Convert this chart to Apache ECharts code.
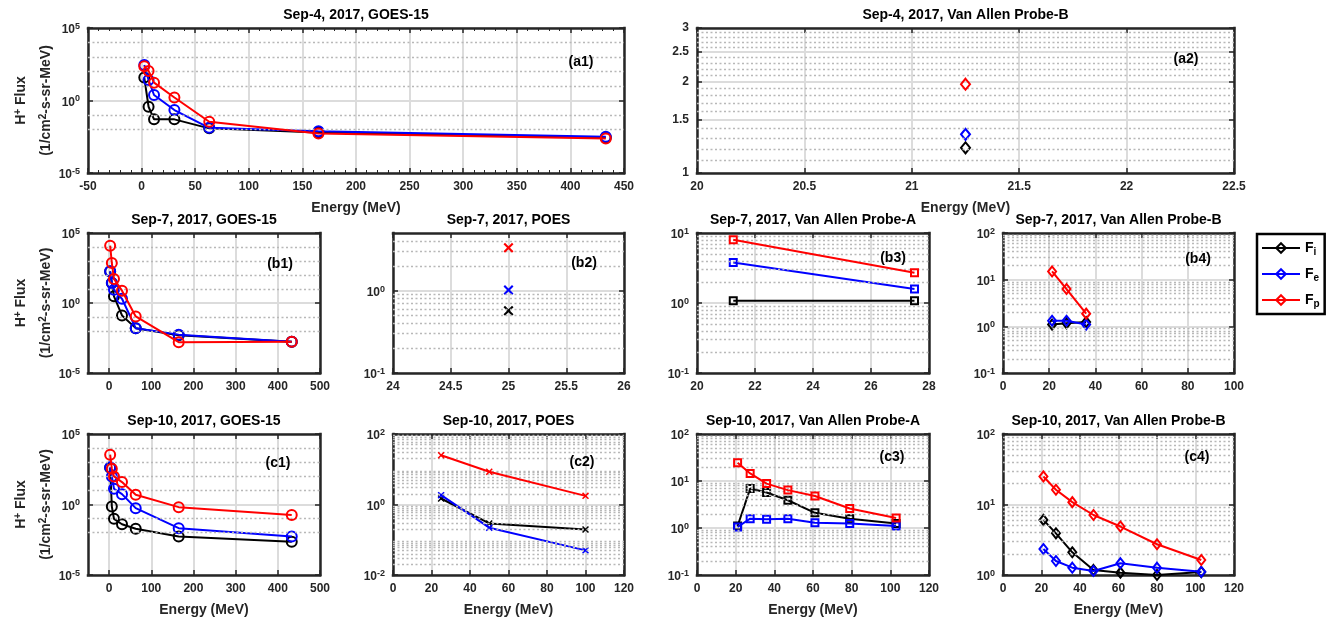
<!DOCTYPE html>
<html><head><meta charset="utf-8">
<script src="https://cdn.jsdelivr.net/npm/echarts@6/dist/echarts.min.js"></script>
<style>html,body{margin:0;padding:0;background:#fff}#c{width:1328px;height:622px}</style>
</head><body><div id="c"></div>
<script>
// ---------------- DATA ----------------
const goesEnergy = [2.5, 6.5, 11.6, 30.6, 63.1, 165, 433];
// Sep-4 GOES-15
const a1Fi = [38, 0.37, 0.05, 0.05, 0.012, 0.0063, 0.0028];
const a1Fe = [280, 26, 2.4, 0.22, 0.013, 0.0077, 0.0032];
const a1Fp = [230, 110, 17, 1.6, 0.034, 0.0053, 0.0024];
// Sep-4 Van Allen Probe-B
const a2Energy = [21.25];
const a2Fi = [1.21], a2Fe = [1.34], a2Fp = [1.96];
// Sep-7 GOES-15
const b1Fi = [180, 27, 3.0, 0.13, 0.016, 0.005, 0.0017];
const b1Fe = [182, 27, 9, 2.0, 0.016, 0.0055, 0.0017];
const b1Fp = [12500, 720, 52, 7.6, 0.11, 0.0016, 0.0017];
// Sep-7 POES
const b2Energy = [25];
const b2Fi = [0.57], b2Fe = [1.02], b2Fp = [3.3];
// Sep-7 Van Allen Probe-A
const b3Energy = [21.25, 27.5];
const b3Fi = [1.08, 1.08], b3Fe = [3.8, 1.58], b3Fp = [8.0, 2.7];
// Sep-7 Van Allen Probe-B
const b4Energy = [21.25, 27.5, 36];
const b4Fi = [1.09, 1.16, 1.24], b4Fe = [1.32, 1.32, 1.09], b4Fp = [15, 6.3, 1.87];
// Sep-10 GOES-15
const c1Fi = [400, 0.72, 0.096, 0.04, 0.019, 0.0053, 0.0023];
const c1Fe = [430, 98, 13, 5.4, 0.55, 0.021, 0.0053];
const c1Fp = [3400, 344, 98, 39, 4.9, 0.65, 0.18];
// Sep-10 POES
const c2Energy = [25, 50, 100];
const c2Fi = [1.48, 0.29, 0.195], c2Fe = [1.84, 0.22, 0.05], c2Fp = [25, 8.5, 1.76];
// Sep-10 Van Allen Probe-A
const c3Energy = [21, 27.5, 36, 47, 61, 79, 103];
const c3Fi = [1.1, 6.9, 5.7, 3.9, 2.1, 1.58, 1.24];
const c3Fe = [1.05, 1.58, 1.53, 1.58, 1.3, 1.24, 1.1];
const c3Fp = [24.5, 14.5, 8.8, 6.4, 4.8, 2.6, 1.63];
// Sep-10 Van Allen Probe-B
const c4Energy = [21, 27.5, 36, 47, 61, 80, 103];
const c4Fi = [6.05, 3.9, 2.1, 1.18, 1.08, 1.0, 1.1];
const c4Fe = [2.34, 1.58, 1.27, 1.14, 1.47, 1.27, 1.11];
const c4Fp = [25, 16.2, 10.8, 7.1, 4.87, 2.73, 1.63];

// tick labels
const a1XTicks = [-50, 0, 50, 100, 150, 200, 250, 300, 350, 400, 450];
const goesXTicks = [0, 100, 200, 300, 400, 500];
const a2XTicks = [20, 20.5, 21, 21.5, 22, 22.5];
const b2XTicks = [24, 24.5, 25, 25.5, 26];
const b3XTicks = [20, 22, 24, 26, 28];
const b4XTicks = [0, 20, 40, 60, 80, 100];
const c234XTicks = [0, 20, 40, 60, 80, 100, 120];
const goesYTicks = [1e-5, 1, 1e5];
const a2YTicks = [1, 1.5, 2, 2.5, 3];
const b2YTicks = [0.1, 1];
const b3YTicks = [0.1, 1, 10];
const b4YTicks = [0.1, 1, 10, 100];
const c2YTicks = [0.01, 1, 100];
const c3YTicks = [0.1, 1, 10, 100];
const c4YTicks = [1, 10, 100];
const titles = {
  a1: 'Sep-4, 2017, GOES-15', a2: 'Sep-4, 2017, Van Allen Probe-B',
  b1: 'Sep-7, 2017, GOES-15', b2: 'Sep-7, 2017, POES', b3: 'Sep-7, 2017, Van Allen Probe-A', b4: 'Sep-7, 2017, Van Allen Probe-B',
  c1: 'Sep-10, 2017, GOES-15', c2: 'Sep-10, 2017, POES', c3: 'Sep-10, 2017, Van Allen Probe-A', c4: 'Sep-10, 2017, Van Allen Probe-B'
};
const seriesNames = ['Fi', 'Fe', 'Fp'];
const colors = {Fi: '#000000', Fe: '#0000ff', Fp: '#ff0000'};

// ---------------- STYLE / LAYOUT ----------------
const AX = '#262626';
const FONT = '"Liberation Sans", Arial, Helvetica, sans-serif';
const XPATH = 'path://M0,1.5L1.5,0L5,3.5L8.5,0L10,1.5L6.5,5L10,8.5L8.5,10L5,6.5L1.5,10L0,8.5L3.5,5Z';
const SYM = {
  circle: {symbol: 'circle', size: 10, hollow: true},
  diamond: {symbol: 'diamond', size: [9, 11], hollow: true},
  diamondS: {symbol: 'diamond', size: [8, 10], hollow: true},
  square: {symbol: 'rect', size: 7, hollow: true},
  xBig: {symbol: XPATH, size: 10, hollow: false},
  xSmall: {symbol: XPATH, size: 7, hollow: false}
};

const panels = [
  {id:'a1', box:[88,28,624,173], tag:[581,62], xMin:-50, xMax:450, xInt:50, xTicks:a1XTicks, yMin:1e-5, yMax:1e5, yTicks:goesYTicks, pow:true, decadeMinor:true, xName:true, yName:true, E:goesEnergy, d:[a1Fi,a1Fe,a1Fp], sym:'circle'},
  {id:'a2', box:[697,28,1234,173], tag:[1186,59], xMin:20, xMax:22.5, xTicks:a2XTicks, yMin:1, yMax:3, yTicks:a2YTicks, pow:false, linMinor:0.1, xName:true, E:a2Energy, d:[a2Fi,a2Fe,a2Fp], sym:'diamond'},
  {id:'b1', box:[88,233,320,373], tag:[280,264], xMin:-50, xMax:500, xTicks:goesXTicks, yMin:1e-5, yMax:1e5, yTicks:goesYTicks, pow:true, decadeMinor:true, yName:true, E:goesEnergy, d:[b1Fi,b1Fe,b1Fp], sym:'circle'},
  {id:'b2', box:[393,233,624,373], tag:[584,263], xMin:24, xMax:26, xTicks:b2XTicks, yMin:0.1, yMax:5, yTicks:b2YTicks, pow:true, E:b2Energy, d:[b2Fi,b2Fe,b2Fp], sym:'xBig'},
  {id:'b3', box:[697,233,929,373], tag:[893,258], xMin:20, xMax:28, xTicks:b3XTicks, yMin:0.1, yMax:10, yTicks:b3YTicks, pow:true, E:b3Energy, d:[b3Fi,b3Fe,b3Fp], sym:'square'},
  {id:'b4', box:[1003,233,1234,373], tag:[1198,259], xMin:0, xMax:100, xTicks:b4XTicks, yMin:0.1, yMax:100, yTicks:b4YTicks, pow:true, E:b4Energy, d:[b4Fi,b4Fe,b4Fp], sym:'diamondS', legend:true},
  {id:'c1', box:[88,434,320,575], tag:[278,463], xMin:-50, xMax:500, xTicks:goesXTicks, yMin:1e-5, yMax:1e5, yTicks:goesYTicks, pow:true, decadeMinor:true, xName:true, yName:true, E:goesEnergy, d:[c1Fi,c1Fe,c1Fp], sym:'circle'},
  {id:'c2', box:[393,434,624,575], tag:[582,462], xMin:0, xMax:120, xTicks:c234XTicks, yMin:0.01, yMax:100, yTicks:c2YTicks, pow:true, xName:true, E:c2Energy, d:[c2Fi,c2Fe,c2Fp], sym:'xSmall'},
  {id:'c3', box:[697,434,929,575], tag:[892,457], xMin:0, xMax:120, xTicks:c234XTicks, yMin:0.1, yMax:100, yTicks:c3YTicks, pow:true, xName:true, E:c3Energy, d:[c3Fi,c3Fe,c3Fp], sym:'square'},
  {id:'c4', box:[1003,434,1234,575], tag:[1197,457], xMin:0, xMax:120, xTicks:c234XTicks, yMin:1, yMax:100, yTicks:c4YTicks, pow:true, xName:true, E:c4Energy, d:[c4Fi,c4Fe,c4Fp], sym:'diamondS'}
];

const labelBase = {fontSize:12, fontWeight:'bold', fontFamily:FONT, color:AX};
const powRich = {
  b: {fontSize:12, fontWeight:'bold', fontFamily:FONT, color:AX, lineHeight:16, padding:[6,0,0,0], verticalAlign:'bottom'},
  s: {fontSize:9, fontWeight:'bold', fontFamily:FONT, color:AX, lineHeight:10, padding:[2,0,0,0], verticalAlign:'top'}
};
function fmtPow(v) { const e = Math.round(Math.log10(v)); return '{b|10}{s|' + e + '}'; }

function minorValues(p) {
  const out = [];
  if (p.linMinor) {
    for (let v = p.yMin; v < p.yMax - 1e-9; v += p.linMinor) {
      const r = Math.round(v * 10) / 10;
      if (r > p.yMin && Math.abs(r * 2 - Math.round(r * 2)) > 1e-9) out.push(r);
    }
    return out;
  }
  const lo = Math.floor(Math.log10(p.yMin) + 1e-9), hi = Math.ceil(Math.log10(p.yMax) - 1e-9);
  for (let e = lo; e < hi; e++) {
    if (p.decadeMinor) { if (e > lo && e !== 0) out.push(Math.pow(10, e)); continue; }
    for (let m = 2; m <= 9; m++) {
      const v = m * Math.pow(10, e);
      if (v > p.yMin && v < p.yMax) out.push(+v.toPrecision(6));
    }
  }
  return out;
}

const option = {
  animation: false,
  backgroundColor: '#ffffff',
  grid: [], xAxis: [], yAxis: [], series: [], graphic: [],
  legend: {
    orient: 'vertical', left: 1257, top: 234,
    data: seriesNames,
    formatter: n => '{F|F}{s|' + n.slice(1) + '}',
    textStyle: {rich: {
      F: {fontSize:14, fontWeight:'bold', fontFamily:FONT, color:'#000'},
      s: {fontSize:10, fontWeight:'bold', fontFamily:FONT, color:'#000', verticalAlign:'bottom', padding:[8,0,0,0]}
    }},
    itemWidth: 38, itemHeight: 12, itemGap: 10,
    borderColor: '#000', borderWidth: 2.5, padding: [7, 5, 5, 4],
    backgroundColor: '#fff', selectedMode: false
  }
};

panels.forEach(p => {
  const gi = option.grid.length;
  const [x0, y0, x1, y1] = p.box;
  option.grid.push({left:x0, top:y0, width:x1-x0, height:y1-y0, containLabel:false, outerBoundsMode:'none', show:false});
  const axisLine = {show:true, onZero:false, lineStyle:{color:AX, width:2.5, cap:'square'}};
  const minorTick = p.xInt ? {show:true, splitNumber:5, length:3, lineStyle:{color:AX, width:1}} : {show:false};
  const xi = option.xAxis.length;
  const xBase = {gridIndex:gi, type:'value', min:p.xMin, max:p.xMax};
  if (p.xInt) xBase.interval = p.xInt;
  option.xAxis.push(Object.assign({}, xBase, {
    position:'bottom', axisLine, minorTick,
    axisTick:{show:true, inside:true, length:5, customValues:p.xTicks, lineStyle:{color:AX, width:1.5}},
    axisLabel:Object.assign({customValues:p.xTicks, margin:8}, labelBase),
    splitLine:{show:true, lineStyle:{color:'#dcdcdc', width:2}},
    name: p.xName ? 'Energy (MeV)' : '', nameLocation:'middle', nameGap:28,
    nameTextStyle:{fontSize:14, fontWeight:'bold', fontFamily:FONT, color:AX}
  }));
  option.xAxis.push(Object.assign({}, xBase, {
    position:'top', axisLine, minorTick,
    axisTick:{show:true, inside:true, length:5, customValues:p.xTicks, lineStyle:{color:AX, width:1.5}},
    axisLabel:{show:false}, splitLine:{show:false}
  }));
  const yi = option.yAxis.length;
  const yBase = {gridIndex:gi, type:'log', logBase:10, min:p.yMin, max:p.yMax};
  option.yAxis.push(Object.assign({}, yBase, {
    position:'left', axisLine,
    axisTick:{show:true, inside:true, length:5, customValues:p.yTicks, lineStyle:{color:AX, width:1.5}},
    axisLabel: p.pow ? {customValues:p.yTicks, margin:8, formatter:fmtPow, rich:powRich}
                     : Object.assign({customValues:p.yTicks, margin:8, formatter: v => String(+v.toPrecision(6))}, labelBase),
    splitLine:{show:true, lineStyle:{color:'#dcdcdc', width:2}},
    name: p.yName ? '{b|H}{s|+}{b| Flux}\n{b|(1/cm}{s|2}{b|-s-sr-MeV)}' : '',
    nameLocation:'middle', nameGap:29,
    nameTextStyle:{rich:{
      b:{fontSize:14, fontWeight:'bold', fontFamily:FONT, color:AX, lineHeight:25},
      s:{fontSize:10, fontWeight:'bold', fontFamily:FONT, color:AX, lineHeight:10, padding:[4,0,0,0], verticalAlign:'top'}
    }}
  }));
  option.yAxis.push(Object.assign({}, yBase, {
    position:'right', axisLine,
    axisTick:{show:true, inside:true, length:5, customValues:p.yTicks, lineStyle:{color:AX, width:1.5}},
    axisLabel:{show:false}, splitLine:{show:false}
  }));
  // minor dotted grid
  option.series.push({
    type:'line', xAxisIndex:xi, yAxisIndex:yi, data:[], z:1, silent:true,
    markLine:{silent:true, symbol:['none','none'], label:{show:false}, animation:false,
      lineStyle:{type:[2,2.5], color:'#b8b8b8', width:1.4},
      emphasis:{disabled:true},
      data: minorValues(p).map(v => ({yAxis:v}))}
  });
  const s = SYM[p.sym];
  seriesNames.forEach((nm, k) => {
    const c = colors[nm];
    option.series.push({
      type:'line', name: p.legend ? nm : p.id + '-' + nm,
      xAxisIndex:xi, yAxisIndex:yi, z:3 + k, clip:false, silent:true,
      data: p.E.map((e, i) => [e, p.d[k][i]]),
      symbol: s.symbol, symbolSize: s.size, showSymbol:true,
      lineStyle:{color:c, width:2},
      itemStyle: s.hollow ? {color:'rgba(255,255,255,0)', borderColor:c, borderWidth:2} : {color:c, borderWidth:0},
      emphasis:{disabled:true}
    });
  });
  option.graphic.push({type:'text', x:(x0+x1)/2, y:y0-13, silent:true,
    style:{text:titles[p.id], font:'bold 14px ' + FONT, fill:'#000', align:'center', verticalAlign:'middle', textAlign:'center', textVerticalAlign:'middle'}});
  option.graphic.push({type:'text', x:p.tag[0], y:p.tag[1], silent:true, z:10,
    style:{text:'(' + p.id + ')', font:'bold 14px ' + FONT, fill:'#000', align:'center', verticalAlign:'middle', textAlign:'center', textVerticalAlign:'middle'}});
});

const chart = echarts.init(document.getElementById('c'), null, {renderer:'canvas'});
chart.setOption(option);
</script>
</body></html>
